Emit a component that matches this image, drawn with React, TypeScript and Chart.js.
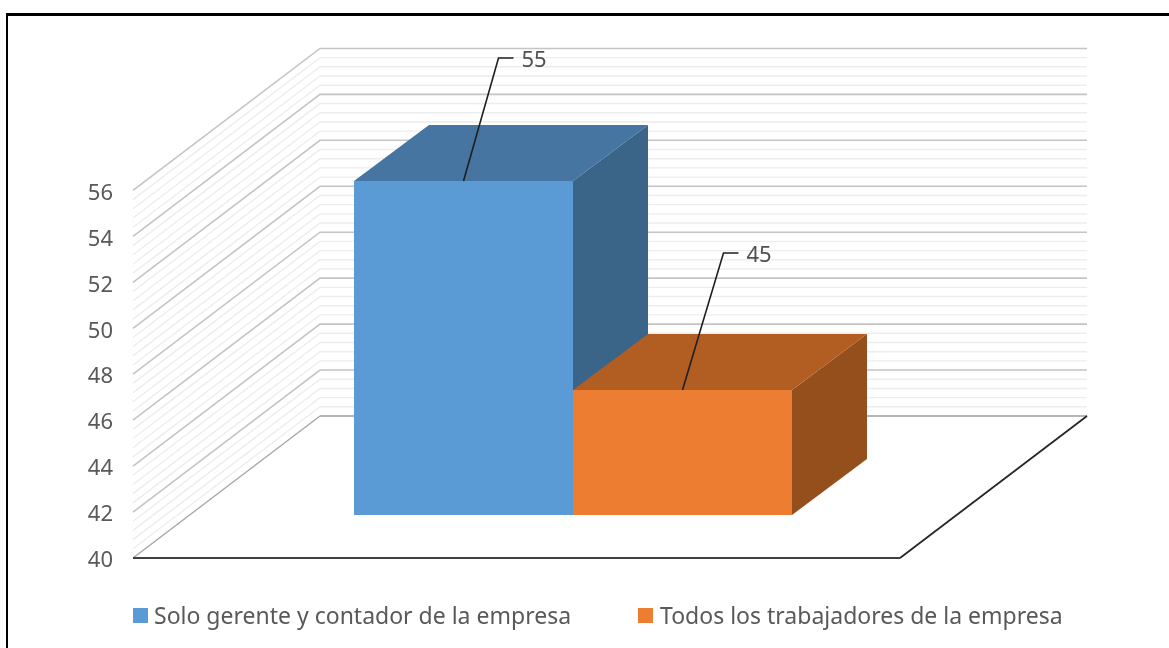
import React, { useEffect, useRef } from "react";
import { Chart, registerables } from "chart.js";

Chart.register(...registerables);

const categories = ["Respuesta"];
const seriesNames = ["Solo gerente y contador de la empresa", "Todos los trabajadores de la empresa"];
const soloGerente = [55];
const todosTrabajadores = [45];
const faceColors = ["#5B9BD5", "#ED7D31"];
const topColors = ["#4675A1", "#B25E22"];
const sideColors = ["#3A6488", "#954F1C"];
const leaderOffsets = [[35, -123], [41, -137]];
const legendBoxX = [133, 638];
const legendTextX = [154, 660];

const TEXT = "#595959";
const FONT = "'Noto Sans'";
const WALL_WIDTH = 767;
const WALL_DEPTH = [187, -142];
const BAR_DEPTH = [75, -56];
const LEGEND_Y = 615;

const poly = (ctx: CanvasRenderingContext2D, pts: number[][], fill: string) => {
  ctx.beginPath();
  pts.forEach(([x, y], i) => (i ? ctx.lineTo(x, y) : ctx.moveTo(x, y)));
  ctx.closePath();
  ctx.fillStyle = fill;
  ctx.fill();
};

const line = (ctx: CanvasRenderingContext2D, pts: number[][], color: string, width: number) => {
  ctx.beginPath();
  pts.forEach(([x, y], i) => (i ? ctx.lineTo(x, y) : ctx.moveTo(x, y)));
  ctx.strokeStyle = color;
  ctx.lineWidth = width;
  ctx.stroke();
};

const walls3d = {
  id: "walls3d",
  beforeDatasetsDraw(chart: any) {
    const { ctx, chartArea, scales } = chart;
    const x0 = chartArea.left;
    const [dx, dy] = WALL_DEPTH;
    const xBack = x0 + dx;
    const xRight = xBack + WALL_WIDTH;
    ctx.save();
    for (let step = 39; step > 0; step--) {
      if (step % 5 !== 0) {
        const y = scales.y.getPixelForValue(40 + step * 0.4);
        line(ctx, [[x0, y], [xBack, y + dy], [xRight, y + dy]], "#EDEDED", 1.4);
      }
    }
    for (let v = 42; v <= 56; v += 2) {
      const y = scales.y.getPixelForValue(v);
      line(ctx, [[x0, y], [xBack, y + dy], [xRight, y + dy]], "#C4C4C4", 1.6);
    }
    const y0 = scales.y.getPixelForValue(40);
    line(ctx, [[x0, y0], [xBack, y0 + dy]], "#A6A6A6", 1.4);
    line(ctx, [[xBack, y0 + dy], [xRight, y0 + dy]], "#B5B5B5", 1.8);
    line(ctx, [[x0 + WALL_WIDTH, y0], [xRight, y0 + dy]], "#262626", 1.8);
    line(ctx, [[x0, y0], [x0 + WALL_WIDTH, y0]], "#404040", 2.2);

    const [bx, by] = BAR_DEPTH;
    chart.data.datasets.forEach((_: any, i: number) => {
      const bar = chart.getDatasetMeta(i).data[0];
      const l = bar.x - bar.width / 2;
      const r = bar.x + bar.width / 2;
      const t = bar.y;
      const b = bar.base;
      poly(ctx, [[r, t], [r + bx, t + by], [r + bx, b + by], [r, b]], sideColors[i]);
      poly(ctx, [[l, t], [l + bx, t + by], [r + bx, t + by], [r, t]], topColors[i]);
    });
    ctx.restore();
  },
  afterDatasetsDraw(chart: any) {
    const { ctx } = chart;
    ctx.save();
    chart.data.datasets.forEach((ds: any, i: number) => {
      const bar = chart.getDatasetMeta(i).data[0];
      const [ox, oy] = leaderOffsets[i];
      const ex = bar.x + ox;
      const ey = bar.y + oy;
      line(ctx, [[bar.x, bar.y], [ex, ey], [ex + 15, ey]], "#1F1F1F", 1.6);
      ctx.font = `22px ${FONT}`;
      ctx.fillStyle = "#505050";
      ctx.textAlign = "left";
      ctx.textBaseline = "middle";
      ctx.fillText(String(ds.data[0]), ex + 23, ey + 3);
    });
    ctx.font = `23px ${FONT}`;
    ctx.textBaseline = "middle";
    ctx.textAlign = "left";
    chart.data.datasets.forEach((ds: any, i: number) => {
      ctx.fillStyle = faceColors[i];
      ctx.fillRect(legendBoxX[i], LEGEND_Y - 7, 15, 15);
      ctx.fillStyle = TEXT;
      ctx.fillText(ds.label, legendTextX[i], LEGEND_Y + 2);
    });
    ctx.restore();
  },
};

export default function App() {
  const ref = useRef<HTMLCanvasElement>(null);
  useEffect(() => {
    document.body.style.margin = "0";
    const chart = new Chart(ref.current!, {
      type: "bar",
      data: {
        labels: categories,
        datasets: [
          { label: seriesNames[0], data: soloGerente, backgroundColor: faceColors[0], yAxisID: "y2", base: 39.02 },
          { label: seriesNames[1], data: todosTrabajadores, backgroundColor: faceColors[1], yAxisID: "y2", base: 39.02 },
        ],
      },
      plugins: [walls3d],
      options: {
        animation: false,
        responsive: false,
        layout: { padding: { left: 0, top: 48, right: 156, bottom: 90 } },
        categoryPercentage: 0.4977,
        barPercentage: 1,
        plugins: { legend: { display: false }, tooltip: { enabled: false } },
        scales: {
          x: { display: false, grid: { display: false } },
          y: {
            min: 40,
            max: 62.2,
            grid: { display: false, drawTicks: false },
            border: { display: false },
            ticks: {
              stepSize: 2,
              padding: 20,
              labelOffset: 3,
              color: TEXT,
              font: { family: "Noto Sans", size: 22 },
            },
            afterBuildTicks(scale: any) {
              scale.ticks = scale.ticks.filter((t: any) => t.value <= 56);
            },
            afterFit(scale: any) {
              scale.width = 133;
            },
          },
          y2: { display: false, min: 36.96, max: 61.36 },
        },
      } as any,
    });
    return () => chart.destroy();
  }, []);
  return (
    <div style={{ position: "absolute", left: 0, top: 0, width: 1169, height: 648, overflow: "hidden", background: "#fff" }}>
      <canvas ref={ref} width={1169} height={648} style={{ position: "absolute", left: 0, top: 0 }} />
      <div style={{ position: "absolute", left: 6, top: 13, right: 0, bottom: 0, borderTop: "3px solid #000", borderLeft: "2px solid #000" }} />
    </div>
  );
}
